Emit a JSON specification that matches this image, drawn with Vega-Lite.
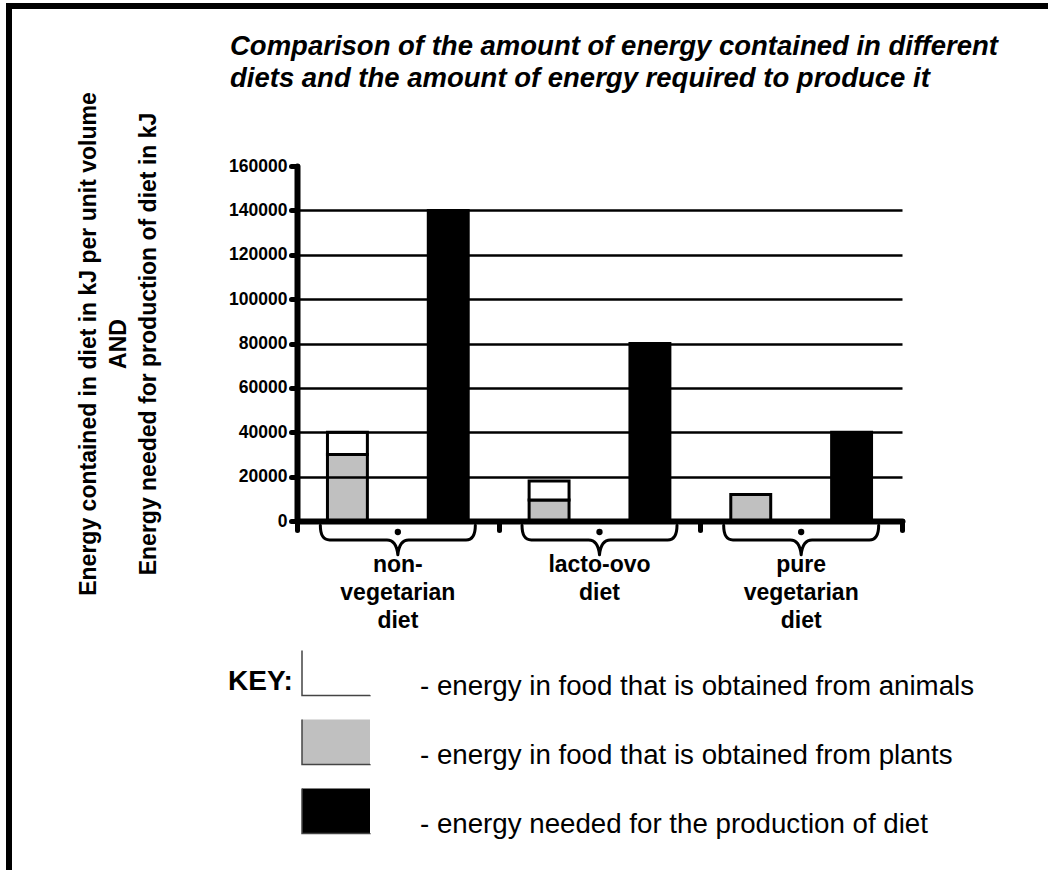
{
  "$schema": "https://vega.github.io/schema/vega-lite/v6.json",
  "width": 1039,
  "height": 864,
  "autosize": {"type": "none"},
  "padding": {"left": 9, "top": 6, "right": 0, "bottom": 0},
  "background": "white",
  "view": {"stroke": "black", "strokeWidth": 6, "strokeDash": [1039, 1903, 864], "fill": "white"},
  "title": {
    "text": ["Comparison of the amount of energy contained in different", "diets and the amount of energy required to produce it"],
    "anchor": "start",
    "frame": "group",
    "dx": 221,
    "offset": -86,
    "font": "Liberation Sans",
    "fontSize": 27.5,
    "fontStyle": "italic",
    "fontWeight": "bold",
    "color": "black",
    "lineHeight": 32
  },
  "datasets": {
    "bars": [
      {"diet": "non-vegetarian diet", "bar": "energy in diet", "type": "- energy in food that is obtained from plants", "kJ": 30000},
      {"diet": "non-vegetarian diet", "bar": "energy in diet", "type": "- energy in food that is obtained from animals", "kJ": 10000},
      {"diet": "non-vegetarian diet", "bar": "energy for production", "type": "- energy needed for the production of diet", "kJ": 140000},
      {"diet": "lacto-ovo diet", "bar": "energy in diet", "type": "- energy in food that is obtained from plants", "kJ": 9500},
      {"diet": "lacto-ovo diet", "bar": "energy in diet", "type": "- energy in food that is obtained from animals", "kJ": 8500},
      {"diet": "lacto-ovo diet", "bar": "energy for production", "type": "- energy needed for the production of diet", "kJ": 80000},
      {"diet": "pure vegetarian diet", "bar": "energy in diet", "type": "- energy in food that is obtained from plants", "kJ": 12000},
      {"diet": "pure vegetarian diet", "bar": "energy for production", "type": "- energy needed for the production of diet", "kJ": 40000}
    ],
    "groups": [
      {"diet": "non-vegetarian diet", "name": "non-\nvegetarian\ndiet"},
      {"diet": "lacto-ovo diet", "name": "lacto-ovo\ndiet"},
      {"diet": "pure vegetarian diet", "name": "pure\nvegetarian\ndiet"}
    ]
  },
  "layer": [
    {
      "data": {"name": "bars"},
      "mark": {"type": "bar", "stroke": "black", "strokeWidth": 3, "cornerRadius": 0},
      "encoding": {
        "x": {
          "field": "diet", "type": "nominal",
          "sort": ["non-vegetarian diet", "lacto-ovo diet", "pure vegetarian diet"],
          "scale": {"range": [288, 893], "paddingInner": 0, "paddingOuter": 0},
          "axis": {
            "title": null, "labels": false, "offset": -349, "tickBand": "extent",
            "domainColor": "black", "domainWidth": 6, "domainCap": "round",
            "tickColor": "black", "tickSize": 9, "tickWidth": 5, "tickCap": "round",
            "grid": false, "zindex": 1
          }
        },
        "xOffset": {
          "field": "bar", "type": "nominal",
          "sort": ["energy in diet", "energy for production"],
          "scale": {"paddingInner": 0.604, "paddingOuter": 0.302}
        },
        "y": {
          "field": "kJ", "type": "quantitative", "stack": "zero",
          "scale": {"domain": [0, 160000], "range": [515, 160], "nice": false, "zero": true},
          "axis": {
            "title": ["Energy contained in diet in kJ per unit volume", "AND", "Energy needed for production of diet in kJ"],
            "titleFont": "Liberation Sans", "titleFontSize": 23, "titleFontWeight": "bold", "titleColor": "black",
            "titleLineHeight": 30, "titlePadding": 68,
            "offset": -288,
            "values": [0, 20000, 40000, 60000, 80000, 100000, 120000, 140000, 160000],
            "format": "d",
            "labelFont": "Liberation Sans", "labelFontSize": 17.5, "labelFontWeight": "bold", "labelColor": "black", "labelPadding": 4,
            "domainColor": "black", "domainWidth": 6, "domainCap": "round",
            "tickColor": "black", "tickSize": 6, "tickWidth": 5, "tickCap": "round",
            "grid": true, "gridColor": "black", "gridWidth": 2.5,
            "gridOpacity": {"condition": {"test": "datum.value == 0 || datum.value == 160000", "value": 0}, "value": 1},
            "zindex": 1
          }
        },
        "color": {
          "field": "type", "type": "nominal",
          "scale": {
            "domain": ["- energy in food that is obtained from animals", "- energy in food that is obtained from plants", "- energy needed for the production of diet"],
            "range": ["white", "#c0c0c0", "black"]
          },
          "legend": {
            "orient": "none", "legendX": 219, "legendY": 632,
            "title": "KEY:", "titleOrient": "left", "titleAnchor": "start",
            "titleFont": "Liberation Sans", "titleFontSize": 28, "titleFontWeight": "bold", "titleColor": "black",
            "titleBaseline": "line-top", "titleLineHeight": 88, "titlePadding": 8,
            "symbolType": "M -1 -0.66 L -1 0.66 L 1 0.66 L 1 -0.66",
            "symbolSize": 4624, "symbolStrokeColor": "#444444", "symbolStrokeWidth": 1.5, "symbolDash": [113, 100],
            "symbolOpacity": 1,
            "labelFont": "Liberation Sans", "labelFontSize": 27.7, "labelColor": "black", "labelLimit": 1000,
            "labelOffset": 49, "labelBaseline": "top", "rowPadding": 6
          }
        },
        "order": {"field": "type", "sort": "descending"}
      }
    },
    {
      "data": {"name": "groups"},
      "mark": {
        "type": "point",
        "shape": "M -1 -0.19 Q -1 0 -0.88 0 L -0.14 0 Q -0.02 0 0 0.19 Q 0.02 0 0.14 0 L 0.88 0 Q 1 0 1 -0.19",
        "size": 24025, "filled": false, "stroke": "black", "strokeWidth": 3,
        "strokeCap": "round", "strokeJoin": "round", "opacity": 1, "yOffset": 19
      },
      "encoding": {
        "x": {"field": "diet", "type": "nominal", "sort": ["non-vegetarian diet", "lacto-ovo diet", "pure vegetarian diet"]},
        "y": {"datum": 0, "type": "quantitative"}
      }
    },
    {
      "data": {"name": "groups"},
      "mark": {"type": "point", "shape": "circle", "size": 40, "filled": true, "color": "black", "opacity": 1, "yOffset": 11},
      "encoding": {
        "x": {"field": "diet", "type": "nominal", "sort": ["non-vegetarian diet", "lacto-ovo diet", "pure vegetarian diet"]},
        "y": {"datum": 0, "type": "quantitative"}
      }
    },
    {
      "data": {"name": "groups"},
      "mark": {
        "type": "text", "lineBreak": "\n", "font": "Liberation Sans", "fontSize": 23, "fontWeight": "bold",
        "color": "black", "align": "center", "baseline": "line-top", "lineHeight": 28, "dy": 30
      },
      "encoding": {
        "x": {"field": "diet", "type": "nominal", "sort": ["non-vegetarian diet", "lacto-ovo diet", "pure vegetarian diet"]},
        "y": {"datum": 0, "type": "quantitative"},
        "text": {"field": "name"}
      }
    }
  ]
}
